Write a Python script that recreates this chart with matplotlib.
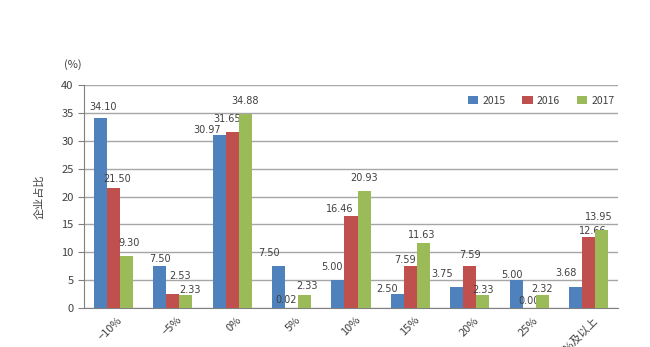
import matplotlib
matplotlib.use("Agg")
import matplotlib.pyplot as plt
import matplotlib.transforms as mtransforms
import numpy as np

plt.rcParams['font.family'] = ['Noto Sans CJK SC', 'DejaVu Sans']

categories = ["−10%", "−5%", "0%", "5%", "10%", "15%", "20%", "25%", "30%及以上"]
years = ["2015", "2016", "2017"]
v2015 = [34.10, 7.50, 30.97, 7.50, 5.00, 2.50, 3.75, 5.00, 3.68]
v2016 = [21.50, 2.53, 31.65, 0.02, 16.46, 7.59, 7.59, 0.00, 12.66]
v2017 = [9.30, 2.33, 34.88, 2.33, 20.93, 11.63, 2.33, 2.32, 13.95]
colors = ["#4f81bd", "#c0504d", "#9bbb59"]

# label nudges in pixels (dx, dy above bar top), as placed in the original
nudges = [
    [(3, 11), (0, 7), (-12, 5), (-10, 13), (-6, 13), (-10, 5), (-15, 13), (-4, 5), (-9, 14)],
    [(4, 9), (7, 18), (-5, 13), (-6, 8), (-11, 7), (-5, 6), (0, 11), (0, 7), (4, 6)],
    [(2, 13), (4, 5), (0, 13), (2, 9), (0, 13), (-2, 8), (0, 5), (0, 6), (-3, 13)],
]

fig = plt.figure(figsize=(6.5, 3.47), dpi=100)
ax = fig.add_axes([0.129, 0.1124, 0.822, 0.6426])

x = np.arange(len(categories))
w = 0.22
txt = "#404040"
for i, (vals, c, yr) in enumerate(zip([v2015, v2016, v2017], colors, years)):
    pos = x + (i - 1) * w
    ax.bar(pos, vals, w, color=c, label=yr, zorder=3)
    for p, v, (dx, dy) in zip(pos, vals, nudges[i]):
        ax.annotate(f"{v:.2f}", (p, v), xytext=(dx, dy), textcoords="offset pixels",
                    ha="center", va="center", fontsize=7, color=txt,
                    family="DejaVu Sans")

ax.set_xlim(-0.5, len(categories) - 0.5)
ax.set_ylim(0, 40)
ax.set_yticks(range(0, 41, 5))
ax.yaxis.grid(True, color="#a6a6a6", linewidth=1.0, zorder=0)
ax.set_axisbelow(True)
for s in ["top", "right"]:
    ax.spines[s].set_visible(False)
for s in ["left", "bottom"]:
    ax.spines[s].set_color("#808080")
ax.tick_params(axis="y", colors="#808080", labelcolor=txt, labelsize=8, length=4)
ax.tick_params(axis="x", length=0, labelcolor=txt, labelsize=8, pad=5)
ax.set_xticks(x)
ax.set_xticklabels(categories, rotation=45, ha="right", rotation_mode="anchor")
shift = mtransforms.ScaledTranslation(4 / 100, 0, fig.dpi_scale_trans)
for lab in ax.get_xticklabels():
    lab.set_transform(lab.get_transform() + shift)

ax.set_ylabel("企业占比", fontsize=8, color=txt, labelpad=12)
ax.text(-0.021, 1.094, "(%)", transform=ax.transAxes, fontsize=8, color=txt,
        ha="center", va="center")

ax.legend(loc="center right", bbox_to_anchor=(0.993, 0.928), ncol=3, frameon=False,
          fontsize=7.5, handlelength=1.0, handleheight=0.8, columnspacing=1.6,
          handletextpad=0.4, labelcolor=txt, borderpad=0, borderaxespad=0)

fig.savefig("out.png", dpi=100)
